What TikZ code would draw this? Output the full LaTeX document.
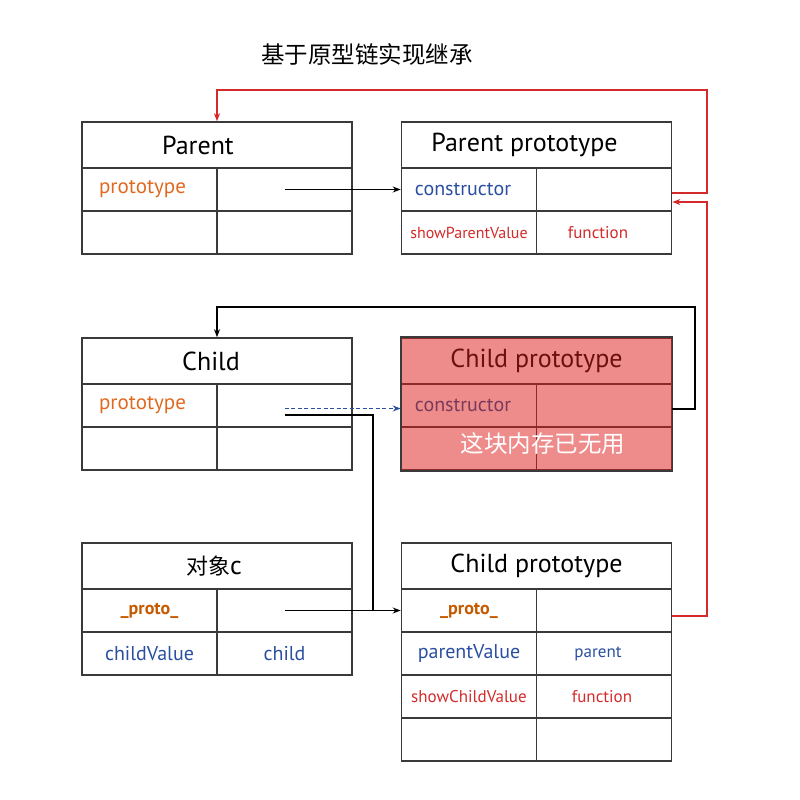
\documentclass[tikz,border=0pt]{standalone}
\usepackage{fontspec}
\setmainfont{PT Sans}
\newfontfamily\cjk{Noto Sans CJK SC}
\usetikzlibrary{arrows.meta}
\definecolor{boxgray}{HTML}{3A3A3A}
\definecolor{protoorange}{HTML}{E0691F}
\definecolor{protobrown}{HTML}{C65A00}
\definecolor{linkblue}{HTML}{2B4FA0}
\definecolor{linkred}{HTML}{D42A2A}
\definecolor{deadfill}{HTML}{EE8B8B}
\definecolor{deadline}{HTML}{8B2A2A}
\definecolor{deadtext}{HTML}{6B1010}
\definecolor{deadblue}{HTML}{7A3A5A}
\tikzset{
  head/.style={draw=boxgray, line width=1.6pt, minimum width=270pt, minimum height=46pt, inner sep=0pt, font=\fontsize{26}{28}\selectfont},
  cell/.style={draw=boxgray, line width=1.6pt, minimum width=135pt, minimum height=43pt, inner sep=0pt, font=\fontsize{20}{22}\selectfont},
  small/.style={font=\fontsize{17}{19}\selectfont},
  dead/.style={fill=deadfill, draw=deadline},
  link/.style={line width=1.4pt, -{Stealth[length=8pt,width=6pt]}},
  redlink/.style={link, draw=linkred, line width=2pt}
}
\begin{document}
\begin{tikzpicture}[x=1pt, y=-1pt]
  \useasboundingbox (0,0) rectangle (800,800);
  \node (title) at (367,55) {\cjk\fontsize{23.5}{26}\selectfont 基于原型链实现继承};

  \node[head] (pa-h) at (217,145) {Parent\hspace*{38pt}};
  \node[cell, text=protoorange, font=\fontsize{21}{23}\selectfont] (pa-l1) at (149.5,189.5) {prototype\hspace*{14pt}};
  \node[cell] (pa-r1) at (284.5,189.5) {};
  \node[cell] (pa-l2) at (149.5,232.5) {};
  \node[cell] (pa-r2) at (284.5,232.5) {};

  \node[head] (pp-h) at (536.5,145) {Parent prototype\hspace*{24pt}};
  \node[cell, text=linkblue] (pp-l1) at (469,189.5) {constructor\hspace*{12pt}};
  \node[cell] (pp-r1) at (604,189.5) {};
  \node[cell, small, text=linkred, font=\fontsize{16}{18}\selectfont] (pp-l2) at (469,232.5) {showParentValue};
  \node[cell, small, text=linkred] (pp-r2) at (604,232.5) {function\hspace*{12pt}};

  \node[head] (ch-h) at (217,361) {Child\hspace*{12pt}};
  \node[cell, text=protoorange, font=\fontsize{21}{23}\selectfont] (ch-l1) at (149.5,405.5) {prototype\hspace*{14pt}};
  \node[cell] (ch-r1) at (284.5,405.5) {};
  \node[cell] (ch-l2) at (149.5,448.5) {};
  \node[cell] (ch-r2) at (284.5,448.5) {};

  \node[head, dead, text=deadtext] (cq-h) at (536.5,361) {Child prototype};
  \node[cell, dead, text=deadblue] (cq-l1) at (469,405.5) {constructor\hspace*{12pt}};
  \node[cell, dead] (cq-r1) at (604,405.5) {};
  \node[cell, dead] (cq-l2) at (469,448.5) {};
  \node[cell, dead] (cq-r2) at (604,448.5) {};
  \draw[boxgray, line width=1.6pt] (cq-h.north west) rectangle (cq-r2.south east);
  \node[text=white] (waste) at (543,444) {\cjk\fontsize{23.5}{26}\selectfont 这块内存已无用};

  \node[head] (ob-h) at (217,566) {{\cjk\fontsize{22}{24}\selectfont 对象}c\hspace*{6pt}};
  \node[cell, text=protobrown, font=\fontsize{18}{20}\selectfont\bfseries] (ob-l1) at (149.5,610.5) {\_proto\_};
  \node[cell] (ob-r1) at (284.5,610.5) {};
  \node[cell, text=linkblue] (ob-l2) at (149.5,653.5) {childValue};
  \node[cell, text=linkblue] (ob-r2) at (284.5,653.5) {child};

  \node[head] (cp-h) at (536.5,566) {Child prototype};
  \node[cell, text=protobrown, font=\fontsize{18}{20}\selectfont\bfseries] (cp-l1) at (469,610.5) {\_proto\_};
  \node[cell] (cp-r1) at (604,610.5) {};
  \node[cell, text=linkblue] (cp-l2) at (469,653.5) {parentValue};
  \node[cell, small, text=linkblue] (cp-r2) at (604,653.5) {parent\hspace*{12pt}};
  \node[cell, small, text=linkred] (cp-l3) at (469,696.5) {showChildValue};
  \node[cell, small, text=linkred] (cp-r3) at (604,696.5) {function\hspace*{4pt}};
  \node[cell] (cp-l4) at (469,739.5) {};
  \node[cell] (cp-r4) at (604,739.5) {};

  \coordinate (rx) at (707,90);
  \coordinate (bk) at (695,307);
  \coordinate (jn) at (373,610.5);
  \coordinate (in) at ([yshift=-12.5pt]pp-r1.east);

  \draw[link] (pa-r1.center) -- (pp-l1.west);
  \draw[redlink] ([yshift=-3.5pt]pp-r1.east) -| (rx) -| (pa-h.north);
  \draw[redlink] ([yshift=-5pt]cp-r1.east) -| (rx |- in) -- (in);
  \draw[link] ([yshift=-3.5pt]cq-r1.east) -| (bk) -| (ch-h.north);
  \draw[link, draw=linkblue, dash pattern=on 4pt off 2.5pt] ([yshift=-3pt]ch-r1.center) -- ([yshift=-3pt]cq-l1.west);
  \draw[line width=2pt] ([yshift=-9pt]ch-r1.center) -| (jn);
  \draw[link] (ob-r1.center) -- (cp-l1.west);
\end{tikzpicture}
\end{document}
